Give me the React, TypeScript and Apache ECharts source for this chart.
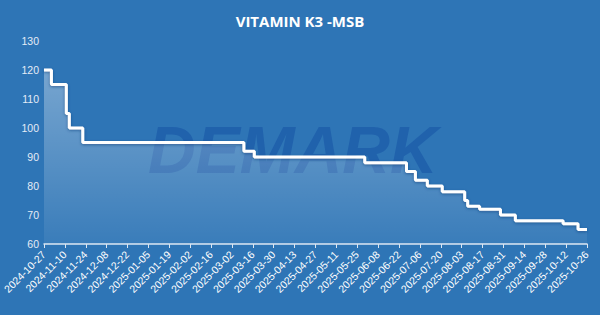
import React, { useEffect, useRef } from "react";
import * as echarts from "echarts";

const startDate = "2024-10-27";
const endDate = "2025-10-26";
const changeDates = [
  "2024-10-27", "2024-11-01", "2024-11-11", "2024-11-13", "2024-11-22",
  "2025-03-10", "2025-03-17", "2025-05-30", "2025-06-27", "2025-07-03",
  "2025-07-11", "2025-07-21", "2025-08-05", "2025-08-07", "2025-08-15",
  "2025-08-29", "2025-09-08", "2025-10-10", "2025-10-20",
];
const changeValues = [120, 115, 105, 100, 95, 92, 90, 88, 85, 82, 80, 78, 75, 73, 72, 70, 68, 67, 65];
const yTicks = [60, 70, 80, 90, 100, 110, 120, 130];

function fmt(d: Date) {
  const y = d.getUTCFullYear();
  const m = String(d.getUTCMonth() + 1).padStart(2, "0");
  const dd = String(d.getUTCDate()).padStart(2, "0");
  return `${y}-${m}-${dd}`;
}

function buildDays() {
  const out: string[] = [];
  const d = new Date(startDate + "T00:00:00Z");
  const end = new Date(endDate + "T00:00:00Z");
  while (d <= end) {
    out.push(fmt(d));
    d.setUTCDate(d.getUTCDate() + 1);
  }
  return out;
}

export default function App() {
  const ref = useRef<HTMLDivElement>(null);
  useEffect(() => {
    document.body.style.margin = "0";
    const days = buildDays();
    const values: number[] = [];
    let ci = 0;
    for (const day of days) {
      while (ci + 1 < changeDates.length && changeDates[ci + 1] <= day) ci++;
      values.push(changeValues[ci]);
    }
    const chart = echarts.init(ref.current!, null, { renderer: "svg" });
    chart.setOption({
      animation: false,
      backgroundColor: "#2E75B6",
      title: {
        text: "VITAMIN K3 -MSB",
        left: "center",
        top: 8,
        textStyle: { color: "#ffffff", fontSize: 15, fontWeight: "bold", fontFamily: "Open Sans" },
      },
      graphic: [
        {
          type: "text",
          left: 148,
          top: 117,
          z: 1,
          style: {
            text: "DEMARK",
            fill: "rgba(24,88,168,0.65)",
            font: "italic bold 66px 'Liberation Sans'",
          },
        },
      ],
      grid: { left: 41, right: 13, top: 41, bottom: 71 },
      xAxis: {
        type: "category",
        data: days,
        boundaryGap: false,
        axisLine: { lineStyle: { color: "#dce6f2", width: 1.5 } },
        axisTick: { show: true, interval: 13, length: 4, lineStyle: { color: "#dce6f2" } },
        axisLabel: {
          interval: 13,
          rotate: 45,
          color: "#ffffff",
          fontSize: 10.5,
          fontFamily: "Liberation Sans",
          margin: 9,
        },
        splitLine: { show: false },
      },
      yAxis: {
        type: "value",
        min: yTicks[0],
        max: yTicks[yTicks.length - 1],
        interval: 10,
        axisLine: { show: false },
        axisTick: { show: false },
        splitLine: { show: false },
        axisLabel: { color: "#e4ecf6", fontSize: 10.5, fontFamily: "Liberation Sans", margin: 5 },
      },
      series: [
        {
          type: "line",
          data: values,
          step: "end",
          symbol: "none",
          z: 3,
          lineStyle: {
            color: "#ffffff",
            width: 3,
            shadowColor: "rgba(20,60,120,0.6)",
            shadowBlur: 3,
            shadowOffsetY: 1,
          },
          areaStyle: {
            color: new echarts.graphic.LinearGradient(0, 0, 0, 1, [
              { offset: 0, color: "rgba(255,255,255,0.5)" },
              { offset: 1, color: "rgba(255,255,255,0.08)" },
            ]),
          },
        },
      ],
    });
    return () => chart.dispose();
  }, []);
  return <div ref={ref} style={{ width: 600, height: 315 }} />;
}
